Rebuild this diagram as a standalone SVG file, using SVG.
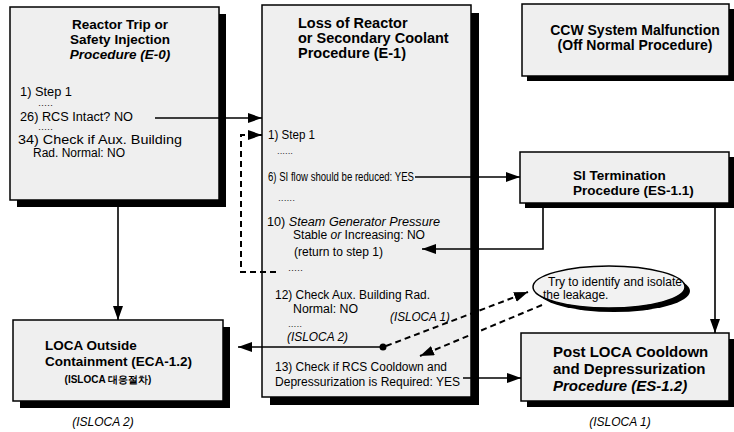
<svg xmlns="http://www.w3.org/2000/svg" width="734" height="432" viewBox="0 0 734 432">
<defs>
<marker id="ah" markerUnits="userSpaceOnUse" markerWidth="15" markerHeight="11" refX="14" refY="5" orient="auto">
<path d="M0,0 L14,5 L0,10 z" fill="#000"/>
</marker>
</defs>
<style>
.box{fill:#efefef;stroke:#000;stroke-width:1.5}
.sh{fill:#000}
.t{font-family:"Liberation Sans",Arial,sans-serif;font-weight:bold;fill:#000}
.i{font-family:"Liberation Sans",Arial,sans-serif;font-size:12px;fill:#000}
.d{font-family:"Liberation Sans",Arial,sans-serif;font-size:8px;fill:#000}
.it{font-style:italic}
.ln{fill:none;stroke:#000;stroke-width:1.6}
.dl{fill:none;stroke:#000;stroke-width:2;stroke-dasharray:6 4}
</style>
<rect width="734" height="432" fill="#fff"/>

<g id="e0">
<rect class="sh" x="17" y="14" width="209" height="193"/>
<rect class="box" x="10" y="7" width="209" height="193"/>
<text class="t" font-size="13.5" text-anchor="middle"><tspan x="120" y="29">Reactor Trip or</tspan><tspan x="120" y="44">Safety Injection</tspan><tspan x="120" y="59" font-style="italic">Procedure (E-0)</tspan></text>
<text class="i" x="20" y="96" textLength="52" lengthAdjust="spacingAndGlyphs">1) Step 1</text>
<text class="d" x="38" y="106" textLength="15" lengthAdjust="spacingAndGlyphs">.....</text>
<text class="i" x="20" y="121" textLength="113" lengthAdjust="spacingAndGlyphs">26) RCS Intact? NO</text>
<text class="d" x="38" y="130" textLength="15" lengthAdjust="spacingAndGlyphs">.....</text>
<text class="i" x="18" y="144" textLength="164" lengthAdjust="spacingAndGlyphs">34) Check if Aux. Building</text>
<text class="i" x="33" y="157" textLength="92" lengthAdjust="spacingAndGlyphs">Rad. Normal: NO</text>
</g>

<g id="e1">
<rect class="sh" x="270" y="13" width="209" height="392"/>
<rect class="box" x="262" y="5" width="209" height="392"/>
<text class="t" font-size="14.5"><tspan x="298" y="28">Loss of Reactor</tspan><tspan x="298" y="43">or Secondary Coolant</tspan><tspan x="298" y="58">Procedure (E-1)</tspan></text>
<text class="i" x="268" y="139" textLength="47" lengthAdjust="spacingAndGlyphs">1) Step 1</text>
<text class="d" x="277" y="154" textLength="16" lengthAdjust="spacingAndGlyphs">......</text>
<g transform="translate(268,181) scale(0.8,1)"><text class="i" x="0" y="0">6) SI flow should be reduced: YES</text></g>
<text class="d" x="278" y="201" textLength="17" lengthAdjust="spacingAndGlyphs">......</text>
<text class="i" x="267" y="226" textLength="173" lengthAdjust="spacingAndGlyphs">10) <tspan class="it">Steam Generator Pressure</tspan></text>
<text class="i" x="293" y="239" textLength="132" lengthAdjust="spacingAndGlyphs">Stable <tspan class="it">or</tspan> Increasing: NO</text>
<text class="i" x="294" y="256" textLength="89" lengthAdjust="spacingAndGlyphs">(return to step 1)</text>
<text class="d" x="288" y="271" textLength="15" lengthAdjust="spacingAndGlyphs">.....</text>
<text class="i" x="275" y="299" textLength="155" lengthAdjust="spacingAndGlyphs">12) Check Aux. Building Rad.</text>
<text class="i" x="293" y="313" textLength="65" lengthAdjust="spacingAndGlyphs">Normal: NO</text>
<text class="i it" x="390" y="321" textLength="60" lengthAdjust="spacingAndGlyphs">(ISLOCA 1)</text>
<text class="d" x="288" y="327" textLength="14" lengthAdjust="spacingAndGlyphs">.....</text>
<text class="i it" x="287" y="341" textLength="61" lengthAdjust="spacingAndGlyphs">(ISLOCA 2)</text>
<text class="i" x="275" y="371" textLength="172" lengthAdjust="spacingAndGlyphs">13) Check if RCS Cooldown and</text>
<text class="i" x="275" y="386" textLength="185" lengthAdjust="spacingAndGlyphs">Depressurization is Required: YES</text>
</g>

<g id="ccw">
<rect class="sh" x="527" y="9" width="207" height="72"/>
<rect class="box" x="522" y="4" width="207" height="72"/>
<text class="t" font-size="14" text-anchor="middle"><tspan x="635" y="35">CCW System Malfunction</tspan><tspan x="635" y="50">(Off Normal Procedure)</tspan></text>
</g>

<g id="si">
<rect class="sh" x="525" y="157" width="209" height="51"/>
<rect class="box" x="520" y="152" width="209" height="51"/>
<text class="t" font-size="13.5"><tspan x="573" y="180">SI Termination</tspan><tspan x="573" y="195">Procedure (ES-1.1)</tspan></text>
</g>

<g id="postloca">
<rect class="sh" x="527" y="339" width="207" height="68"/>
<rect class="box" x="521" y="333" width="208" height="68"/>
<text class="t" font-size="15"><tspan x="553" y="357">Post LOCA Cooldown</tspan><tspan x="553" y="374">and Depressurization</tspan><tspan x="553" y="391" font-style="italic">Procedure (ES-1.2)</tspan></text>
<text class="i it" x="620" y="426" text-anchor="middle" font-size="10.5">(ISLOCA 1)</text>
</g>

<g id="loca">
<rect class="sh" x="20" y="327" width="210" height="81"/>
<rect class="box" x="13" y="320" width="210" height="81"/>
<text class="t" font-size="13.5"><tspan x="45" y="350">LOCA Outside</tspan><tspan x="45" y="366">Containment (ECA-1.2)</tspan></text>
<text class="t" x="108" y="383" font-size="10" text-anchor="middle" font-family="'Liberation Sans','Noto Sans CJK KR',sans-serif">(ISLOCA 대응절차)</text>
<text class="i it" x="103" y="426" text-anchor="middle" font-size="10.5">(ISLOCA 2)</text>
</g>

<g id="isolate">
<ellipse cx="614" cy="291" rx="76" ry="21" fill="#000"/>
<ellipse cx="609" cy="287" rx="76" ry="21" fill="#f2f2f2" stroke="#000" stroke-width="1.5"/>
<text class="i" x="548" y="286" font-size="11" textLength="134" lengthAdjust="spacingAndGlyphs">Try to identify and isolate</text>
<text class="i" x="543" y="299" font-size="11">the leakage.</text>
</g>

<g id="connectors">
<line class="ln" x1="155" y1="118" x2="262" y2="118" marker-end="url(#ah)"/>
<polyline class="dl" points="276,272 241,272 241,135 262,135" marker-end="url(#ah)"/>
<line class="ln" x1="118" y1="207" x2="118" y2="320" marker-end="url(#ah)"/>
<line class="ln" x1="415" y1="177" x2="520" y2="177" marker-end="url(#ah)"/>
<polyline class="ln" points="543,208 543,249 422,249" marker-end="url(#ah)"/>
<line class="ln" x1="715" y1="208" x2="715" y2="333" marker-end="url(#ah)"/>
<line class="ln" x1="383" y1="347" x2="238" y2="347" marker-end="url(#ah)"/>
<circle cx="383" cy="347" r="3.5" fill="#000"/>
<line class="dl" x1="386" y1="346" x2="528" y2="292" marker-end="url(#ah)"/>
<line class="dl" x1="542" y1="305" x2="420" y2="356" marker-end="url(#ah)"/>
<line class="ln" x1="463" y1="378" x2="521" y2="378" marker-end="url(#ah)"/>
</g>
</svg>
